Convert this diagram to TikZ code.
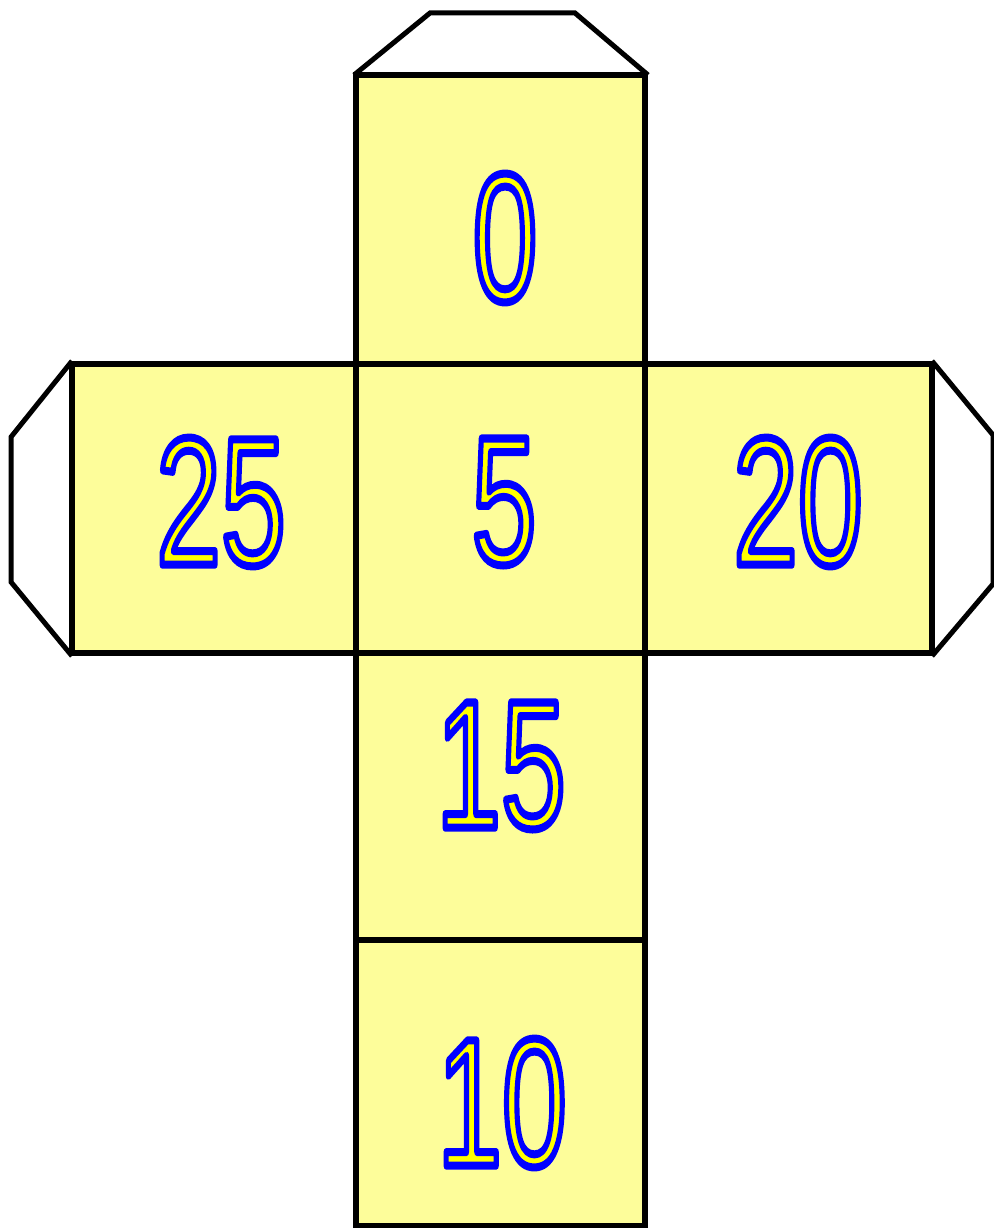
\documentclass[tikz,border=0pt]{standalone}
\usepackage{fontspec}
\setmainfont{Liberation Sans}
\definecolor{facefill}{HTML}{FDFD9A}
\definecolor{numfill}{HTML}{FFFF00}
\definecolor{numline}{HTML}{0000FF}
\newcommand{\dnum}[1]{{\fontsize{182}{182}\selectfont\scalebox{0.64}[1]{\textcolor{numfill}{\special{pdf:literal direct 0 0 1 RG 2 Tr 8 w 1 j}#1\special{pdf:literal direct 0 Tr}}}}}
\begin{document}
\begin{tikzpicture}[x=1pt,y=-1pt,
  face/.style={draw=black, line width=6pt, fill=facefill, inner sep=0pt, outer sep=0pt},
  tab/.style={draw=black, line width=5pt, line join=miter},
  num/.style={inner sep=0pt, anchor=center}]
\useasboundingbox (0,0) rectangle (993,1228);
% faces
\node[face, minimum width=289pt, minimum height=289pt] (ftop) at (500.5,219.5) {};
\node[face, minimum width=284pt, minimum height=289pt] (fleft) at (214,508.5) {};
\node[face, minimum width=289pt, minimum height=289pt] (fmid) at (500.5,508.5) {};
\node[face, minimum width=287pt, minimum height=289pt] (fright) at (788.5,508.5) {};
\node[face, minimum width=289pt, minimum height=287pt] (flow) at (500.5,796.5) {};
\node[face, minimum width=289pt, minimum height=286pt] (fbot) at (500.5,1083) {};
% tabs
\coordinate (ta) at (430,13);
\coordinate (tb) at (575,13);
\coordinate (la) at (11,437);
\coordinate (lb) at (11,582);
\coordinate (ra) at (993,435);
\coordinate (rb) at (993,584);
\draw[tab] ([xshift=-2pt]ftop.north west) -- (ta) -- (tb) -- ([xshift=3pt]ftop.north east);
\draw[tab] ([yshift=3pt]fleft.north west) -- (la) -- (lb) -- ([yshift=-3pt]fleft.south west);
\draw[tab] ([yshift=3pt]fright.north east) -- (ra) -- (rb) -- ([yshift=-3pt]fright.south east);
% numbers
\node[num] (n0) at (505,238) {\dnum{0}};
\node[num] (n25) at (221,502) {\dnum{25}};
\node[num] (n5) at (504,502) {\dnum{5}};
\node[num] (n20) at (798,502) {\dnum{20}};
\node[num] (n15) at (501,766) {\dnum{15}};
\node[num] (n10) at (502,1103) {\dnum{10}};
\end{tikzpicture}
\end{document}
